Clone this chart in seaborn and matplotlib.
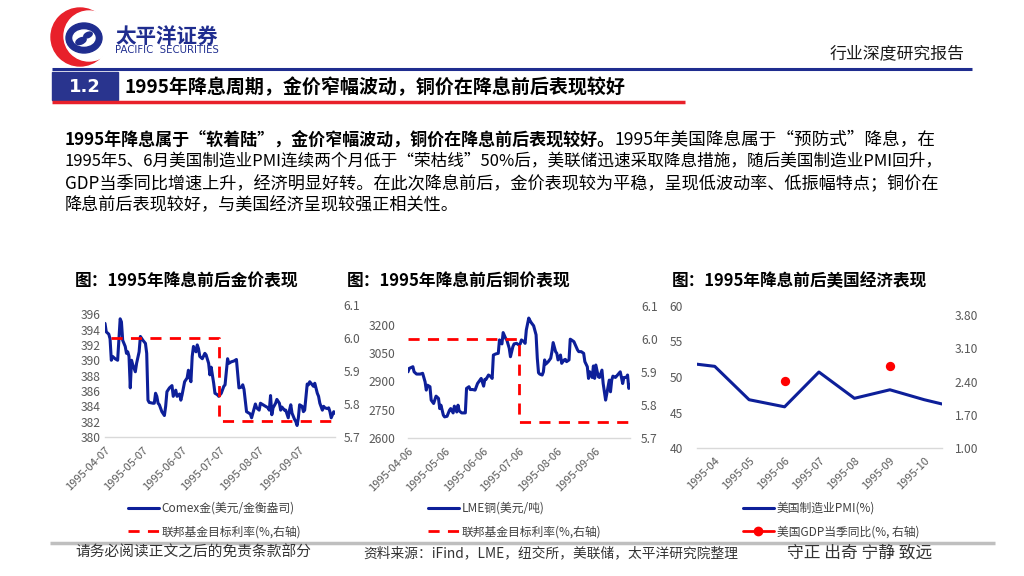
import numpy as np
import pandas as pd
import matplotlib
matplotlib.use("Agg")
import matplotlib.pyplot as plt
import seaborn as sns
from matplotlib.lines import Line2D
from matplotlib.patches import Rectangle, Circle, Ellipse

# ---------------- data ----------------
gold_dates = [
    '1995-04-07', '1995-04-08', '1995-04-10', '1995-04-11', '1995-04-12', '1995-04-13', '1995-04-15',
    '1995-04-17', '1995-04-18', '1995-04-19', '1995-04-20', '1995-04-21', '1995-04-23', '1995-04-24',
    '1995-04-25', '1995-04-26', '1995-04-27', '1995-04-28', '1995-04-29',
    '1995-05-01', '1995-05-02', '1995-05-04', '1995-05-05', '1995-05-07', '1995-05-09', '1995-05-10',
    '1995-05-11', '1995-05-12', '1995-05-15', '1995-05-16', '1995-05-17', '1995-05-18', '1995-05-19',
    '1995-05-20', '1995-05-22', '1995-05-24', '1995-05-25', '1995-05-26', '1995-05-28', '1995-05-30',
    '1995-05-31',
    '1995-06-02', '1995-06-03', '1995-06-05', '1995-06-06', '1995-06-07', '1995-06-09', '1995-06-11',
    '1995-06-12', '1995-06-13', '1995-06-14', '1995-06-15', '1995-06-16', '1995-06-18', '1995-06-19',
    '1995-06-20', '1995-06-21', '1995-06-23', '1995-06-25', '1995-06-26', '1995-06-28', '1995-06-29',
    '1995-06-30',
    '1995-07-02', '1995-07-03', '1995-07-05', '1995-07-06', '1995-07-08', '1995-07-10', '1995-07-11',
    '1995-07-13', '1995-07-14', '1995-07-16', '1995-07-18', '1995-07-20', '1995-07-21', '1995-07-22',
    '1995-07-24', '1995-07-25', '1995-07-26', '1995-07-27', '1995-07-28', '1995-07-31',
    '1995-08-01', '1995-08-02', '1995-08-04', '1995-08-05', '1995-08-07', '1995-08-08', '1995-08-10',
    '1995-08-12', '1995-08-14', '1995-08-15', '1995-08-16', '1995-08-17', '1995-08-18', '1995-08-20',
    '1995-08-21', '1995-08-23', '1995-08-24', '1995-08-25', '1995-08-27', '1995-08-28', '1995-08-30',
    '1995-08-31',
    '1995-09-01', '1995-09-02', '1995-09-04', '1995-09-05', '1995-09-06', '1995-09-07', '1995-09-08',
    '1995-09-10', '1995-09-11', '1995-09-12', '1995-09-14', '1995-09-15', '1995-09-16', '1995-09-18',
    '1995-09-19', '1995-09-20', '1995-09-22', '1995-09-23', '1995-09-24', '1995-09-26', '1995-09-27',
    '1995-09-28', '1995-09-30',
    '1995-10-01', '1995-10-02', '1995-10-03', '1995-10-04', '1995-10-05', '1995-10-06',
]
gold_price = [
    394.8, 393.7, 393.4, 392.8, 390.0, 390.5, 390.2, 390.0, 392.6, 395.4, 395.0, 392.6, 391.8, 390.9,
    391.1, 390.5, 386.4, 390.0, 389.4,
    388.5, 389.6, 391.1, 393.1, 392.6, 392.2, 390.9, 384.8, 384.5, 384.4, 384.4, 385.7, 385.3, 384.4,
    384.2, 383.3, 382.8, 384.0, 385.9, 386.4, 386.7, 385.3,
    386.1, 385.3, 385.6, 384.8, 385.5, 387.2, 387.7, 388.7, 387.8, 387.2, 390.5, 391.8, 391.1, 392.0,
    391.5, 390.5, 390.2, 390.9, 390.7, 389.6, 388.1, 389.1,
    387.0, 385.7, 385.5, 385.3, 385.7, 386.6, 386.8, 390.2, 389.6, 389.8, 389.9, 390.1, 388.3, 386.4,
    386.5, 386.8, 386.2, 384.8, 383.3, 383.0,
    382.5, 383.1, 384.3, 383.8, 383.5, 384.4, 384.2, 384.0, 383.8, 383.5, 385.4, 382.9, 383.8, 384.4,
    384.9, 384.4, 383.5, 383.9, 383.5, 383.5, 382.5, 383.5,
    384.2, 383.1, 382.3, 382.0, 381.5, 382.5, 384.2, 384.0, 383.3, 383.5, 386.9, 386.8, 387.2, 386.8,
    386.6, 387.0, 385.7, 385.3, 384.4, 383.5, 384.0, 383.8, 383.7,
    383.8, 383.3, 382.5, 382.9, 383.3, 383.1,
]
gold_fed_dates = ['1995-04-12', '1995-07-06', '1995-10-06']
gold_fed_rate = [6.0, 5.75, 5.75]
gold_ticks = ['1995-04-07', '1995-05-07', '1995-06-07', '1995-07-07', '1995-08-07', '1995-09-07']

copper_dates = [
    '1995-04-06', '1995-04-07', '1995-04-10', '1995-04-11', '1995-04-13', '1995-04-16', '1995-04-18',
    '1995-04-20', '1995-04-21', '1995-04-22', '1995-04-24', '1995-04-25', '1995-04-27', '1995-04-29',
    '1995-05-01', '1995-05-02', '1995-05-03', '1995-05-05', '1995-05-06', '1995-05-08', '1995-05-10',
    '1995-05-11', '1995-05-13', '1995-05-14', '1995-05-16', '1995-05-17', '1995-05-18', '1995-05-20',
    '1995-05-22', '1995-05-23', '1995-05-24', '1995-05-26', '1995-05-27', '1995-05-29', '1995-05-31',
    '1995-06-02', '1995-06-04', '1995-06-05', '1995-06-07', '1995-06-08', '1995-06-09', '1995-06-11',
    '1995-06-13', '1995-06-14', '1995-06-15', '1995-06-17', '1995-06-19', '1995-06-20', '1995-06-22',
    '1995-06-23', '1995-06-25', '1995-06-26', '1995-06-28', '1995-06-29',
    '1995-07-01', '1995-07-02', '1995-07-04', '1995-07-06', '1995-07-07', '1995-07-08', '1995-07-10',
    '1995-07-11', '1995-07-12', '1995-07-14', '1995-07-15', '1995-07-16', '1995-07-18', '1995-07-20',
    '1995-07-21', '1995-07-22', '1995-07-23', '1995-07-25', '1995-07-26', '1995-07-27', '1995-07-28',
    '1995-07-30',
    '1995-08-01', '1995-08-02', '1995-08-03', '1995-08-05', '1995-08-06', '1995-08-07', '1995-08-09',
    '1995-08-10', '1995-08-12', '1995-08-13', '1995-08-14', '1995-08-16', '1995-08-17', '1995-08-18',
    '1995-08-20', '1995-08-23', '1995-08-24', '1995-08-26', '1995-08-28', '1995-08-29', '1995-08-31',
    '1995-09-01', '1995-09-02', '1995-09-04', '1995-09-05', '1995-09-06', '1995-09-07', '1995-09-09',
    '1995-09-10', '1995-09-12', '1995-09-13', '1995-09-15', '1995-09-16', '1995-09-18', '1995-09-19',
    '1995-09-20', '1995-09-21', '1995-09-23', '1995-09-24', '1995-09-27', '1995-09-28', '1995-09-29',
    '1995-09-30',
    '1995-10-02', '1995-10-03', '1995-10-04', '1995-10-05',
]
copper_price = [
    2951, 2969, 2978, 2951, 2939, 2939, 2943, 2898, 2854, 2880, 2872, 2801, 2783, 2822,
    2810, 2756, 2774, 2721, 2712, 2715, 2747, 2756, 2733, 2769, 2738, 2774, 2744, 2733,
    2733, 2733, 2863, 2872, 2857, 2857, 2854,
    2889, 2907, 2916, 2875, 2911, 2911, 2934, 2925, 2916, 3040, 3046, 3049, 3120, 3099,
    3159, 3129, 3120, 3076, 3031,
    3085, 3099, 3102, 3093, 3099, 3120, 3111, 3102, 3173, 3236, 3223, 3212, 3195, 3147,
    3023, 2946, 2939, 2934, 2951, 3014, 2992, 3005,
    3023, 3058, 3106, 3058, 3049, 3014, 3040, 2996, 3014, 3017, 3005, 3014, 3124, 3120,
    3111, 3067, 3058, 3058, 3049, 3005, 2978,
    2916, 2951, 2921, 2982, 2916, 2987, 2925, 2921, 2960, 2889, 2801, 2836, 2907, 2845,
    2907, 2928, 2921, 2928, 2951, 2921, 2889, 2921,
    2921, 2934, 2863, 2880,
]
copper_fed_dates = ['1995-04-06', '1995-07-06', '1995-10-05']
copper_fed_rate = [6.0, 5.75, 5.75]
copper_ticks = ['1995-04-06', '1995-05-06', '1995-06-06', '1995-07-06', '1995-08-06', '1995-09-06']

months = ['1995-03', '1995-04', '1995-05', '1995-06', '1995-07', '1995-08', '1995-09', '1995-10', '1995-11']
pmi = [52.1, 51.5, 46.8, 45.8, 50.7, 47.0, 48.2, 46.8, 45.6]
gdp_months = ['1995-06', '1995-09']
gdp = [2.42, 2.72]

# ---------------- style ----------------
sns.set_theme(style="white")
CJK = ['Noto Sans CJK SC', 'DejaVu Sans']
plt.rcParams['font.family'] = CJK
plt.rcParams['axes.unicode_minus'] = False

BLUE = '#0D1F99'
RED = '#FF0000'
TICK = '#595959'
NAVY = '#1F2D8F'

fig = plt.figure(figsize=(10.24, 5.76), dpi=100)
bg = fig.add_axes([0, 0, 1, 1], zorder=0)
bg.set_xlim(0, 1024)
bg.set_ylim(576, 0)
bg.axis('off')
renderer = fig.canvas.get_renderer()


def fit(x, y, s, width, size=12, **kw):
    t = bg.text(x, y, s, fontsize=size, va='center', **kw)
    w = t.get_window_extent(renderer).width
    t.set_fontsize(size * width / w)
    return t


def box(x0, y0, x1, y1):
    return [x0 / 1024, 1 - y1 / 576, (x1 - x0) / 1024, (y1 - y0) / 576]


# ---------------- header ----------------
bg.add_patch(Circle((80, 37), 29, color='#E8202A'))
bg.add_patch(Circle((89, 36), 25, color='white'))
bg.add_patch(Ellipse((84, 38), 36, 30, color=NAVY))
bg.add_patch(Ellipse((84, 38), 22, 16, color='white'))
bg.add_patch(Ellipse((81, 41), 11, 6, angle=-25, color=NAVY))
bg.add_patch(Ellipse((88, 35), 9, 5, angle=-25, color=NAVY))
fit(115, 36, '太平洋证券', 103, 14, color=NAVY, fontweight='bold')
fit(115, 50, 'PACIFIC  SECURITIES', 105, 6, color=NAVY, family='DejaVu Sans')
fit(830, 53, '行业深度研究报告', 135, 12, color='#1a1a1a')

bg.plot([52, 972], [69, 69], color=NAVY, lw=2.2, solid_capstyle='butt')
bg.add_patch(Rectangle((52, 72), 66, 28, color='#29348E'))
bg.text(85, 87, '1.2', color='white', fontsize=13, fontweight='bold', ha='center', va='center',
        family='DejaVu Sans')
fit(125, 87, '1995年降息周期，金价窄幅波动，铜价在降息前后表现较好', 503, 14,
    color='black', fontweight='bold')
bg.plot([52, 685], [101.5, 101.5], color='#E8202A', lw=2.5, solid_capstyle='butt')

# ---------------- paragraph ----------------
fit(65, 140, '1995年降息属于“软着陆”，金价窄幅波动，铜价在降息前后表现较好。', 550, 12,
    color='black', fontweight='bold')
fit(615, 140, '1995年美国降息属于“预防式”降息，在', 320, 12, color='black')
fit(65, 162, '1995年5、6月美国制造业PMI连续两个月低于“荣枯线”50%后，美联储迅速采取降息措施，随后美国制造业PMI回升，',
    875, 12, color='black')
fit(65, 183, 'GDP当季同比增速上升，经济明显好转。在此次降息前后，金价表现较为平稳，呈现低波动率、低振幅特点；铜价在',
    872, 12, color='black')
fit(65, 205, '降息前后表现较好，与美国经济呈现较强正相关性。', 392, 12, color='black')

# chart titles
fit(75, 281, '图：1995年降息前后金价表现', 223, 12, color='black', fontweight='bold')
fit(347, 281, '图：1995年降息前后铜价表现', 223, 12, color='black', fontweight='bold')
fit(672, 281, '图：1995年降息前后美国经济表现', 255, 12, color='black', fontweight='bold')


def style_axes(ax, ax2, lpad, rpad):
    for a in (ax, ax2):
        a.set_facecolor('none')
        for s in ('top', 'left', 'right', 'bottom'):
            a.spines[s].set_visible(False)
        a.grid(False)
        a.set_xlabel('')
        a.set_ylabel('')
    ax.spines['bottom'].set_visible(True)
    ax.spines['bottom'].set_color('#D9D9D9')
    ax.spines['bottom'].set_linewidth(1.0)
    ax.tick_params(axis='y', length=0, labelsize=8.7, labelcolor=TICK, pad=lpad)
    ax2.tick_params(axis='y', length=0, labelsize=8.7, labelcolor=TICK, pad=rpad)
    ax.tick_params(axis='x', labelsize=8, labelcolor=TICK, length=4, color='#BFBFBF', width=0.8, pad=2)
    for lab in ax.get_xticklabels():
        lab.set_rotation(45)
        lab.set_ha('right')
        lab.set_rotation_mode('anchor')


def add_legend(handles, labels, x, y):
    fig.legend(handles, labels, loc='upper left', bbox_to_anchor=(x / 1024, 1 - y / 576),
               frameon=False, fontsize=8.5, handlelength=2.6, handletextpad=0.25,
               labelspacing=0.85, borderpad=0, borderaxespad=0, labelcolor='#404040')


# ---------------- gold chart ----------------
ax = fig.add_axes(box(105, 305, 335, 437), zorder=2)
ax2 = ax.twinx()
sns.lineplot(x=pd.to_datetime(gold_dates), y=gold_price, ax=ax, color=BLUE, lw=2.2, estimator=None)
sns.lineplot(x=pd.to_datetime(gold_fed_dates), y=gold_fed_rate, ax=ax2, color=RED, lw=2,
             drawstyle='steps-post', linestyle=(0, (4, 3)), estimator=None)
ax.set_ylim(380, 397.2)
ax.set_yticks(np.arange(380, 397, 2))
ax2.set_ylim(5.7, 6.1)
ax2.set_yticks([5.7, 5.8, 5.9, 6.0, 6.1])
ax2.set_yticklabels([f'{v:.1f}' for v in [5.7, 5.8, 5.9, 6.0, 6.1]])
ax.set_xlim(pd.Timestamp(gold_dates[0]), pd.Timestamp(gold_dates[-1]))
ax.set_xticks(pd.to_datetime(gold_ticks))
ax.set_xticklabels(gold_ticks)
style_axes(ax, ax2, 3, 6)
add_legend([ax.lines[0], ax2.lines[0]], ['Comex金(美元/金衡盎司)', '联邦基金目标利率(%,右轴)'], 128, 502)

# ---------------- copper chart ----------------
cx = fig.add_axes(box(408, 306, 630, 438), zorder=2)
cx2 = cx.twinx()
sns.lineplot(x=pd.to_datetime(copper_dates), y=copper_price, ax=cx, color=BLUE, lw=2.2, estimator=None)
sns.lineplot(x=pd.to_datetime(copper_fed_dates), y=copper_fed_rate, ax=cx2, color=RED, lw=2,
             drawstyle='steps-post', linestyle=(0, (4, 3)), estimator=None)
cx.set_ylim(2600, 3300)
cx.set_yticks(np.arange(2600, 3201, 150))
cx2.set_ylim(5.7, 6.1)
cx2.set_yticks([5.7, 5.8, 5.9, 6.0, 6.1])
cx2.set_yticklabels([f'{v:.1f}' for v in [5.7, 5.8, 5.9, 6.0, 6.1]])
cx.set_xlim(pd.Timestamp(copper_dates[0]), pd.Timestamp(copper_dates[-1]))
cx.set_xticks(pd.to_datetime(copper_ticks))
cx.set_xticklabels(copper_ticks)
style_axes(cx, cx2, 9, 8)
add_legend([cx.lines[0], cx2.lines[0]], ['LME铜(美元/吨)', '联邦基金目标利率(%,右轴)'], 428, 502)

# ---------------- economy chart ----------------
ex = fig.add_axes(box(697, 306, 942, 448), zorder=2)
ex2 = ex.twinx()
mdates = pd.to_datetime([m + '-01' for m in months])
gdates = pd.to_datetime([m + '-01' for m in gdp_months])
sns.lineplot(x=mdates, y=pmi, ax=ex, color=BLUE, lw=2.2, estimator=None)
sns.scatterplot(x=gdates, y=gdp, ax=ex2, color=RED, s=45, edgecolor=RED, linewidth=0, zorder=3)
ex.set_ylim(40, 60)
ex.set_yticks([40, 45, 50, 55, 60])
ex2.set_ylim(1.0, 3.99)
ex2.set_yticks([1.0, 1.7, 2.4, 3.1, 3.8])
ex2.set_yticklabels([f'{v:.2f}' for v in [1.0, 1.7, 2.4, 3.1, 3.8]])
ex.set_xlim(mdates[0] + (mdates[1] - mdates[0]) / 2, mdates[-2] + (mdates[-1] - mdates[-2]) / 2)
ex.set_xticks(mdates[1:-1])
ex.set_xticklabels(months[1:-1])
style_axes(ex, ex2, 10, 9)
ex.tick_params(axis='x', length=0, pad=5)
gdp_handle = Line2D([], [], color=RED, lw=2, marker='o', markersize=6)
add_legend([ex.lines[0], gdp_handle], ['美国制造业PMI(%)', '美国GDP当季同比(%, 右轴)'], 743, 502)

# ---------------- footer ----------------
bg.plot([50, 995], [543, 543], color='#BFBFBF', lw=2.5, solid_capstyle='butt')
fit(75, 553, '请务必阅读正文之后的免责条款部分', 235, 10, color='#333333')
fit(363, 553, '资料来源：iFind，LME，纽交所，美联储，太平洋研究院整理', 374, 10, color='#333333')
fit(787, 553, '守正 出奇 宁静 致远', 145, 10, color='#333333')

fig.savefig('out.png', dpi=100)
